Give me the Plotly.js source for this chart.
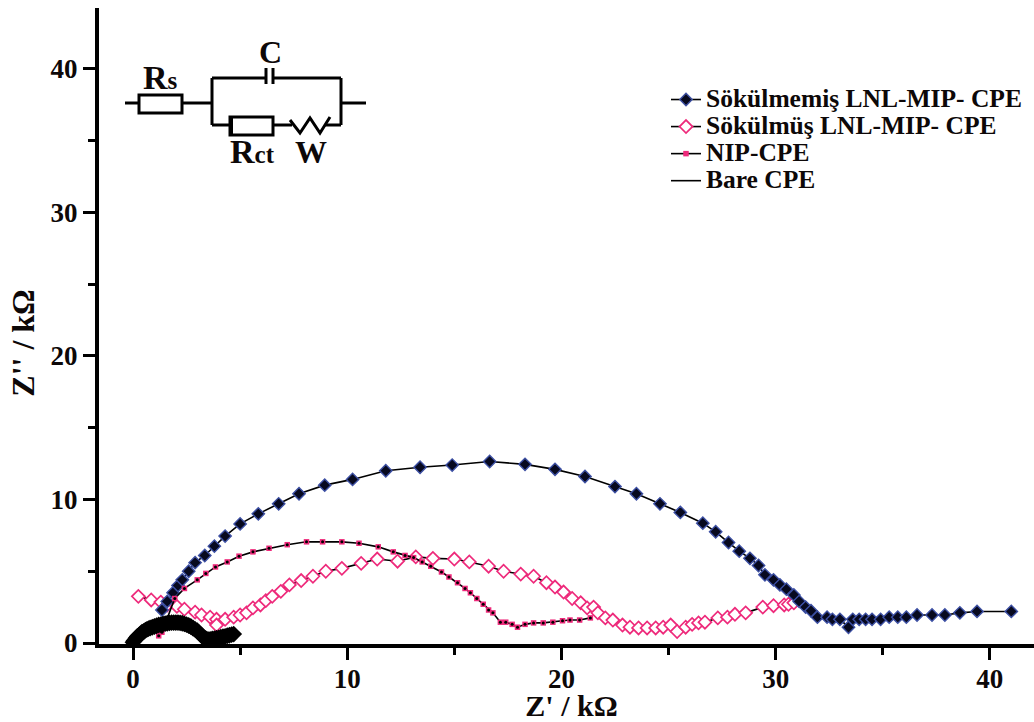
<!DOCTYPE html>
<html><head><meta charset="utf-8"><script src="https://cdn.plot.ly/plotly-3.0.1.min.js"></script>
<style>html,body{margin:0;padding:0;background:#fff}#c{width:1034px;height:722px}</style></head>
<body><div id="c"></div><script>
const blueX=[1.35,1.6,1.87,2.1,2.3,2.6,2.9,3.35,3.8,4.3,5.0,5.85,6.8,7.75,8.95,10.25,11.8,13.4,14.9,16.65,18.3,19.7,21.1,22.5,23.5,24.6,25.55,26.6,27.2,27.8,28.3,28.8,29.2,29.5,29.9,30.2,30.5,30.85,31.1,31.4,31.65,31.95,32.4,32.65,33.0,33.4,33.6,33.9,34.2,34.5,34.9,35.3,35.7,36.1,36.6,37.3,37.9,38.6,39.4,41];
const blueY=[2.3,2.9,3.5,4.0,4.4,5.0,5.6,6.1,6.75,7.45,8.3,9.0,9.7,10.4,11.0,11.4,12.0,12.25,12.4,12.65,12.45,12.1,11.6,10.9,10.4,9.7,9.1,8.35,7.75,7,6.4,5.9,5.4,4.75,4.4,4.05,3.75,3.35,2.9,2.5,2.25,1.8,1.8,1.65,1.65,1.1,1.65,1.65,1.65,1.65,1.65,1.8,1.8,1.8,1.95,1.95,1.95,2.1,2.2,2.2];
const pinkX=[0.25,0.85,1.3,1.6,2.05,2.4,2.9,3.2,3.6,3.9,3.9,4.3,4.7,5,5.3,5.6,5.95,6.2,6.5,6.9,7.3,7.85,8.4,9,9.75,10.65,11.4,12.35,13.2,14,15,15.7,16.6,17.3,18.1,18.7,19.3,19.7,20.1,20.5,20.9,21.2,21.5,21.7,22.05,22.4,22.85,23.2,23.6,24,24.4,24.75,25.1,25.4,25.8,26.1,26.4,26.7,27.3,27.75,28.1,28.6,29.4,29.9,30.4,30.6,30.85];
const pinkY=[3.25,3.0,2.85,2.65,2.55,2.35,2.15,1.95,1.8,1.65,1.25,1.65,1.8,1.95,2.1,2.45,2.65,2.95,3.25,3.6,4.05,4.35,4.65,5,5.2,5.55,5.85,5.7,6.0,5.9,5.85,5.65,5.35,5,4.8,4.65,4.2,3.9,3.55,3.1,2.8,2.45,2.5,2.1,1.75,1.6,1.25,1.1,1.05,1.05,1.05,1.1,1.25,0.8,1.1,1.3,1.4,1.45,1.75,1.8,2.0,2.1,2.5,2.6,2.65,2.7,2.8];
const nipX=[1.2,1.35,1.95,2.4,3,3.4,3.85,4.4,4.95,5.6,6.35,7.2,8.1,8.85,9.75,10.55,11.45,12.15,12.7,13.1,13.5,13.9,14.4,14.75,15.15,15.5,15.75,16.05,16.35,16.6,16.8,17.15,17.4,17.7,17.95,18.3,18.7,19.15,19.6,20.05,20.4,20.85,21.35];
const nipY=[0.5,0.75,3.1,3.8,4.4,4.85,5.3,5.65,6.05,6.35,6.6,6.85,7.05,7.05,7.05,6.95,6.7,6.35,6.1,5.95,5.65,5.35,4.95,4.6,4.2,3.8,3.5,3.1,2.7,2.3,2.1,1.45,1.45,1.3,1.1,1.3,1.4,1.4,1.45,1.55,1.6,1.6,1.75];
const bareX=[0,0.05,0.1,0.15,0.2,0.28,0.35,0.42,0.5,0.58,0.65,0.72,0.8,0.9,1,1.1,1.2,1.3,1.4,1.5,1.6,1.7,1.8,1.9,2.0,2.1,2.2,2.3,2.4,2.5,2.6,2.7,2.8,2.9,3.0,3.08,3.15,3.22,3.3,3.4,3.5,3.6,3.7,3.8,3.9,4.0,4.1,4.2,4.3,4.4,4.5,4.6,4.7];
const bareY=[0.05,0.15,0.25,0.35,0.45,0.55,0.65,0.75,0.8,0.9,0.95,1,1.05,1.1,1.15,1.2,1.25,1.28,1.32,1.35,1.38,1.4,1.42,1.42,1.42,1.42,1.4,1.38,1.33,1.28,1.22,1.15,1.05,0.95,0.85,0.72,0.6,0.48,0.38,0.3,0.25,0.25,0.28,0.3,0.33,0.36,0.4,0.43,0.46,0.5,0.54,0.58,0.62];
const seriesNames=["Sökülmemiş LNL-MIP- CPE","Sökülmüş LNL-MIP- CPE","NIP-CPE","Bare CPE"];
const xTicks=[0,10,20,30,40], yTicks=[0,10,20,30,40];

const serif='"Liberation Serif",serif', ink='#0d0808';
const big=s=>"<span style='font-size:25.5px'>"+s+"</span>";
const thin={color:'#000',width:1.6};
const traces=[
 {x:pinkX,y:pinkY,name:big(seriesNames[1]),legendrank:2,mode:'lines+markers',line:thin,
  marker:{symbol:'diamond',size:10,color:'#fff',line:{color:'#ee2a7b',width:1.7}}},
 {x:blueX,y:blueY,name:big(seriesNames[0]),legendrank:1,mode:'lines+markers',line:thin,
  marker:{symbol:'diamond',size:9.5,color:'#07091f',line:{color:'#3c4fa3',width:1.4}}},
 {x:nipX,y:nipY,name:big(seriesNames[2]),legendrank:3,mode:'lines+markers',line:thin,
  marker:{symbol:'square',size:5.5,color:'#ee2a7b'}},
 {x:nipX,y:nipY,mode:'markers',showlegend:false,marker:{symbol:'circle',size:3,color:'#000'}},
 {x:bareX,y:bareY,name:big(seriesNames[3]),legendrank:4,mode:'lines',line:thin},
 {x:bareX,y:bareY,mode:'lines+markers',showlegend:false,line:{color:'#000',width:12},marker:{symbol:'diamond',size:13,color:'#000'}}
];
const X=p=>(p-99)/935, Y=p=>(644-p)/636;
const ln=(x0,y0,x1,y1,w)=>({type:'line',xref:'paper',yref:'paper',x0:X(x0),y0:Y(y0),x1:X(x1),y1:Y(y1),line:{color:'#000',width:w||3}});
const rc=(x0,y0,x1,y1,w)=>({type:'rect',xref:'paper',yref:'paper',x0:X(x0),y0:Y(y0),x1:X(x1),y1:Y(y1),line:{color:'#000',width:w||3},fillcolor:'#fff'});
const zig=[[290,120],[300,133],[310,118],[320,133],[330,117]];
const zigPath='M '+zig.map(p=>X(p[0])+' '+Y(p[1])).join(' L ');
const shapes=[
 ln(125,103,138,103),ln(182,103,212,103),ln(212,78,212,125),ln(212,78,266,78),ln(273,78,341,78),
 ln(266,68,266,84),ln(273,68,273,84),ln(341,78,341,125),ln(341,103,366,103),
 ln(212,125,230,125),ln(273,125,292,125),ln(325,125,341,125),
 rc(139,95,182,113),rc(230,117,273,135),ln(231,117,231,135,4),
 {type:'path',xref:'paper',yref:'paper',path:zigPath,line:{color:'#000',width:3}}
];
const lab=(t,px,py,s)=>({text:t,xref:'paper',yref:'paper',x:X(px),y:Y(py),xanchor:'center',yanchor:'middle',showarrow:false,font:{family:serif,size:s,color:ink,weight:700}});
const annotations=[
 lab("C",270,52,32),
 lab("R<span style='font-size:25px'>s</span>",160,77,34),
 lab("R<span style='font-size:25px'>ct</span>",252,151,34),
 lab("W",311,152,32)
];
const layout={
 width:1034,height:722,paper_bgcolor:'#fff',plot_bgcolor:'#fff',
 margin:{l:99,r:0,t:8,b:78},showlegend:true,
 font:{family:serif,color:ink},
 xaxis:{range:[-1.587,42.06],showgrid:false,zeroline:false,showline:true,linecolor:'#000',linewidth:4,
  tickmode:'array',tickvals:xTicks,ticks:'outside',ticklen:12,tickwidth:3,tickcolor:'#000',
  minor:{dtick:5,ticks:'outside',ticklen:7,tickwidth:3,tickcolor:'#000'},
  tickfont:{family:serif,size:27,color:ink,weight:700},
  title:{text:"Z' / kΩ",font:{family:serif,size:30,color:ink,weight:700},standoff:6}},
 yaxis:{range:[-0.07,44.25],showgrid:false,zeroline:false,showline:true,linecolor:'#000',linewidth:4,
  tickmode:'array',tickvals:yTicks,ticks:'outside',ticklen:12,tickwidth:3,tickcolor:'#000',
  minor:{dtick:5,ticks:'outside',ticklen:7,tickwidth:3,tickcolor:'#000'},
  tickfont:{family:serif,size:27,color:ink,weight:700},
  title:{text:"Z'' / kΩ",font:{family:serif,size:32,color:ink,weight:700},standoff:10}},
 legend:{x:X(666),y:Y(81),xanchor:'left',yanchor:'top',bgcolor:'rgba(0,0,0,0)',itemwidth:30,tracegroupgap:0,
  font:{family:serif,size:18.5,color:ink,weight:700},itemclick:false,itemdoubleclick:false},
 shapes,annotations
};
Plotly.newPlot('c',traces,layout,{displayModeBar:false,staticPlot:true}).then(()=>{
 const nudge=(el,dx,dy)=>{if(el) el.setAttribute('transform','translate('+dx+','+dy+') '+(el.getAttribute('transform')||''));};
 nudge(document.querySelector('.ytitle'),3,17);
 nudge(document.querySelector('.xtitle'),5,0);
 document.querySelectorAll('g.xtick').forEach(t=>nudge(t,0,-4));
});
</script></body></html>
